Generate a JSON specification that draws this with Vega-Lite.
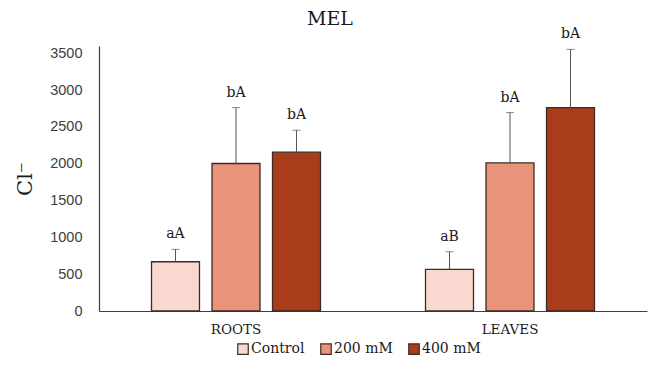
{
  "$schema": "https://vega.github.io/schema/vega-lite/v6.json",
  "autosize": "none",
  "width": 548,
  "height": 265,
  "padding": {"left": 99, "top": 46, "right": 2, "bottom": 64},
  "background": "white",
  "title": {"text": "MEL", "font": "DejaVu Serif", "fontSize": 19, "fontWeight": "normal", "color": "#1a1a1a", "offset": -2, "anchor": "middle", "dx": -43},
  "config": {"view": {"stroke": null}, "axisY": {"labelOverlap": false, "grid": false, "ticks": false, "domainColor": "#404040", "domainWidth": 1.2, "labelFont": "Liberation Sans", "labelFontSize": 14.5, "labelColor": "#404040", "labelPadding": 17, "titleFont": "DejaVu Serif", "titleFontSize": 21, "titleFontWeight": "normal", "titleColor": "#1a1a1a", "titlePadding": 14}},
  "data": {"values": [
    {"tissue": "ROOTS", "treatment": "Control", "value": 669, "upper": 837, "label": "aA"},
    {"tissue": "ROOTS", "treatment": "200 mM", "value": 2004, "upper": 2763, "label": "bA"},
    {"tissue": "ROOTS", "treatment": "400 mM", "value": 2157, "upper": 2456, "label": "bA"},
    {"tissue": "LEAVES", "treatment": "Control", "value": 566, "upper": 805, "label": "aB"},
    {"tissue": "LEAVES", "treatment": "200 mM", "value": 2012, "upper": 2695, "label": "bA"},
    {"tissue": "LEAVES", "treatment": "400 mM", "value": 2763, "upper": 3554, "label": "bA"}
  ]},
  "encoding": {
    "x": {"field": "tissue", "type": "nominal", "sort": ["ROOTS", "LEAVES"],
      "scale": {"paddingInner": 0, "paddingOuter": 0},
      "axis": {"title": null, "labelAngle": 0, "ticks": false, "domainColor": "#404040", "domainWidth": 1.2, "labelFont": "DejaVu Serif", "labelFontSize": 13.5, "labelColor": "#1a1a1a", "labelPadding": 11}},
    "xOffset": {"field": "treatment", "type": "nominal", "sort": ["Control", "200 mM", "400 mM"],
      "scale": {"paddingInner": 0.207, "paddingOuter": 0.868}}
  },
  "layer": [
    {
      "mark": {"type": "bar", "stroke": "#3c2b25", "strokeWidth": 1.3},
      "encoding": {
        "y": {"field": "value", "type": "quantitative",
          "scale": {"domain": [0, 3600], "nice": false},
          "axis": {"title": "Cl⁻", "values": [0, 500, 1000, 1500, 2000, 2500, 3000, 3500], "format": "d"}},
        "color": {"field": "treatment", "type": "nominal", "sort": ["Control", "200 mM", "400 mM"],
          "scale": {"domain": ["Control", "200 mM", "400 mM"], "range": ["#f9d9cf", "#e9937a", "#a93c1a"]},
          "legend": {"title": null, "orient": "none", "direction": "horizontal", "legendX": 137, "legendY": 296,
            "symbolType": "square", "symbolSize": 110, "symbolStrokeColor": "#3c2b25", "symbolStrokeWidth": 1.2,
            "labelFont": "DejaVu Serif", "labelFontSize": 14, "labelColor": "#1a1a1a", "labelOffset": 1, "columnPadding": 13}}
      }
    },
    {
      "mark": {"type": "rule", "color": "#555555", "strokeWidth": 1},
      "encoding": {"y": {"field": "value", "type": "quantitative", "axis": {"title": "Cl⁻", "values": [0, 500, 1000, 1500, 2000, 2500, 3000, 3500], "format": "d"}}, "y2": {"field": "upper"}}
    },
    {
      "mark": {"type": "tick", "color": "#555555", "thickness": 1, "size": 8},
      "encoding": {"y": {"field": "upper", "type": "quantitative", "axis": {"title": "Cl⁻", "values": [0, 500, 1000, 1500, 2000, 2500, 3000, 3500], "format": "d"}}}
    },
    {
      "mark": {"type": "text", "baseline": "bottom", "dy": -8, "font": "DejaVu Serif", "fontSize": 14, "color": "#1a1a1a"},
      "encoding": {"y": {"field": "upper", "type": "quantitative", "axis": {"title": "Cl⁻", "values": [0, 500, 1000, 1500, 2000, 2500, 3000, 3500], "format": "d"}}, "text": {"field": "label"}}
    }
  ]
}
